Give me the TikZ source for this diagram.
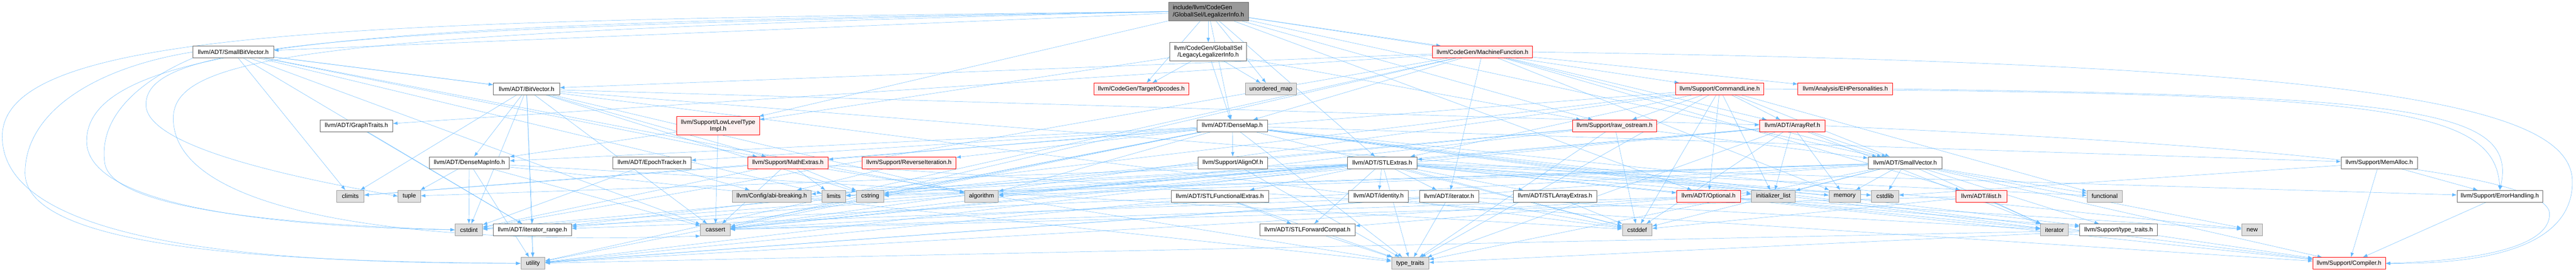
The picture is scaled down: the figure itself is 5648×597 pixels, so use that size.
\documentclass[tikz,border=0pt]{standalone}
\usepackage{fontspec}
\setmainfont{Liberation Sans}
\usetikzlibrary{arrows.meta,backgrounds}

\definecolor{inclblue}{HTML}{63B8FF}
\definecolor{rootfill}{HTML}{999999}
\definecolor{hdrline}{HTML}{666666}
\definecolor{sysfill}{HTML}{E0E0E0}
\definecolor{sysline}{HTML}{999999}
\definecolor{truncfill}{HTML}{FFF0F0}

\tikzset{every picture/.style={line width=0.75pt}}
\tikzset{
  hdr/.style={draw=hdrline, fill=white, font=\fontsize{10}{11.5}\selectfont,
    inner xsep=2pt, inner ysep=1pt, minimum height=19.5pt, align=center},
  roothdr/.style={hdr, fill=rootfill, align=left, minimum height=30.75pt},
  twohdr/.style={hdr, minimum height=30.5pt},
  syshdr/.style={hdr, fill=sysfill, draw=sysline},
  trunchdr/.style={hdr, fill=truncfill, draw=red},
  incl/.style={draw=inclblue, -{Latex[length=7.5pt,width=5.5pt]}},
}

\begin{document}
\begin{tikzpicture}[x=0.75pt,y=0.75pt,yscale=-1,xscale=1]
\useasboundingbox (0,0) rectangle (5648,597);

% row 0 and 1
\node [roothdr, minimum width=131.25pt] (legal) at (2649.5,25.5) {include/llvm/CodeGen\\/GlobalISel/LegalizerInfo.h};
\node [hdr, minimum width=132.75pt] (sbv) at (511.5,114.2) {llvm/ADT/SmallBitVector.h};
\node [twohdr, minimum width=126pt] (legacy) at (2649,114) {llvm/CodeGen/GlobalISel\\/LegacyLegalizerInfo.h};
\node [trunchdr, minimum width=164.25pt] (mf) at (3250.5,114.2) {llvm/CodeGen/MachineFunction.h};

% row 2
\node [hdr, minimum width=108.75pt] (bitvec) at (1154.5,195.4) {llvm/ADT/BitVector.h};
\node [trunchdr, minimum width=155.25pt] (tgtop) at (2502.5,195.4) {llvm/CodeGen/TargetOpcodes.h};
\node [syshdr, minimum width=83.25pt] (umap) at (2786.5,195.4) {unordered\_map};
\node [trunchdr, minimum width=144.75pt] (cmdline) at (3770.5,195.4) {llvm/Support/CommandLine.h};
\node [trunchdr, minimum width=156pt] (ehpers) at (4046,195.4) {llvm/Analysis/EHPersonalities.h};

% row 3
\node [hdr, minimum width=119.25pt] (graph) at (781.5,276.5) {llvm/ADT/GraphTraits.h};
\node [trunchdr, minimum width=135.75pt, minimum height=30.75pt] (lltype) at (1574.5,276.5) {llvm/Support/LowLevelType\\Impl.h};
\node [hdr, minimum width=115.5pt] (densemap) at (2702,276.5) {llvm/ADT/DenseMap.h};
\node [trunchdr, minimum width=138pt] (rawos) at (3540,276.5) {llvm/Support/raw\_ostream.h};
\node [trunchdr, minimum width=108pt] (arrayref) at (3930,276.5) {llvm/ADT/ArrayRef.h};

% row 4
\node [hdr, minimum width=132pt] (dmi) at (1029,357.6) {llvm/ADT/DenseMapInfo.h};
\node [hdr, minimum width=128.25pt] (epoch) at (1429.5,357.6) {llvm/ADT/EpochTracker.h};
\node [trunchdr, minimum width=132.75pt] (mathx) at (1727.5,357.6) {llvm/Support/MathExtras.h};
\node [trunchdr, minimum width=154.5pt] (reviter) at (1993,357.6) {llvm/Support/ReverseIteration.h};
\node [hdr, minimum width=114pt] (alignof) at (2703,357.6) {llvm/Support/AlignOf.h};
\node [hdr, minimum width=114.75pt] (stlx) at (3030.5,357.6) {llvm/ADT/STLExtras.h};
\node [hdr, minimum width=121.5pt] (smallvec) at (4177,357.6) {llvm/ADT/SmallVector.h};
\node [hdr, minimum width=125.25pt] (memalloc) at (5216.5,357.6) {llvm/Support/MemAlloc.h};

% row 5
\node [syshdr, minimum width=45pt] (climits) at (768,431) {climits};
\node [syshdr, minimum width=36.75pt] (tuple) at (897.5,431) {tuple};
\node [syshdr, minimum width=129pt] (abi) at (1692,431) {llvm/Config/abi-breaking.h};
\node [syshdr, minimum width=39pt] (limits) at (1828,431) {limits};
\node [syshdr, minimum width=45pt] (cstring) at (1908,431) {cstring};
\node [syshdr, minimum width=55.5pt] (algorithm) at (2152,431) {algorithm};
\node [hdr, minimum width=159.75pt] (stlfunc) at (2674.5,431) {llvm/ADT/STLFunctionalExtras.h};
\node [hdr, minimum width=98.25pt] (identity) at (3022.5,431) {llvm/ADT/identity.h};
\node [hdr, minimum width=97.5pt] (iterh) at (3177,431) {llvm/ADT/iterator.h};
\node [hdr, minimum width=137.25pt] (stlarr) at (3409.5,431) {llvm/ADT/STLArrayExtras.h};
\node [trunchdr, minimum width=105pt] (optional) at (3746,431) {llvm/ADT/Optional.h};
\node [syshdr, minimum width=72pt] (initlist) at (3888,431) {initializer\_list};
\node [syshdr, minimum width=51.75pt] (memory) at (4044.5,431) {memory};
\node [syshdr, minimum width=45pt] (cstdlib) at (4133,431) {cstdlib};
\node [trunchdr, minimum width=84pt] (ilist) at (4344,431) {llvm/ADT/ilist.h};
\node [syshdr, minimum width=57.75pt] (functional) at (4614.5,431) {functional};
\node [hdr, minimum width=141pt] (errh) at (5481,431) {llvm/Support/ErrorHandling.h};

% row 6
\node [syshdr, minimum width=45pt] (cstdint) at (1028,505) {cstdint};
\node [hdr, minimum width=128.25pt] (iterrange) at (1167.5,505) {llvm/ADT/iterator\_range.h};
\node [syshdr, minimum width=48.75pt] (cassert) at (1568.5,505) {cassert};
\node [hdr, minimum width=156.75pt] (stlfwd) at (2866.5,505) {llvm/ADT/STLForwardCompat.h};
\node [syshdr, minimum width=48.75pt] (cstddef) at (3589.5,505) {cstddef};
\node [syshdr, minimum width=45.75pt] (iterator) at (4504.5,505) {iterator};
\node [hdr, minimum width=127.5pt] (suptt) at (4645,505) {llvm/Support/type\_traits.h};
\node [syshdr, minimum width=34.5pt] (new) at (4938,505) {new};

% row 7
\node [syshdr, minimum width=39.75pt] (utility) at (1168.5,578.6) {utility};
\node [syshdr, minimum width=61.5pt] (typetraits) at (3092,578.6) {type\_traits};
\node [trunchdr, minimum width=119.25pt] (compiler) at (5150.5,578.6) {llvm/Support/Compiler.h};

\begin{scope}[on background layer]
% LegalizerInfo.h
\draw [incl] (legal) -- (sbv);
\draw [incl] (legal) -- (legacy);
\draw [incl] (legal) -- (mf);
\draw [incl] (legal) -- (tgtop);
\draw [incl] (legal) -- (cmdline);
\draw [incl] (legal) -- (lltype);
\draw [incl] (legal) -- (densemap);
\draw [incl] (legal) -- (stlx);
\draw [incl] (legal) -- (smallvec);
\draw [incl] (legal) -- (rawos);
\draw [incl] (legal) -- (optional);
\draw [incl] (legal) -- (umap);
\draw [incl] (legal.west) .. controls (700,60) and (320,100) .. (320,230) .. controls (320,330) and (700,400) .. (tuple.west);
\draw [incl] (legal.west) .. controls (900,50) and (190,80) .. (190,310) .. controls (190,470) and (700,500) .. (cstdint.west);
\draw [incl] (legal.west) .. controls (800,45) and (5,60) .. (5,300) .. controls (5,560) and (700,578) .. (utility.west);
\draw [incl] (legal.west) .. controls (700,70) and (380,120) .. (380,260) .. controls (380,470) and (900,540) .. (cassert.south west);
% SmallBitVector.h
\draw [incl] (sbv) -- (bitvec);
\draw [incl] (sbv) -- (iterrange);
\draw [incl] (sbv) -- (mathx);
\draw [incl] (sbv) -- (algorithm);
\draw [incl] (sbv) -- (cassert);
\draw [incl] (sbv) -- (climits);
\draw [incl] (sbv) -- (cstddef);
\draw [incl] (sbv) -- (limits);
\draw [incl] (sbv.south west) .. controls (300,180) and (215,260) .. (230,360) .. controls (250,470) and (700,495) .. (cstdint.west);
\draw [incl] (sbv.west) .. controls (200,150) and (55,250) .. (55,380) .. controls (55,560) and (700,575) .. (utility.west);
% BitVector.h
\draw [incl] (bitvec) -- (arrayref);
\draw [incl] (bitvec) -- (dmi);
\draw [incl] (bitvec) -- (iterrange);
\draw [incl] (bitvec) -- (mathx);
\draw [incl] (bitvec) -- (algorithm);
\draw [incl] (bitvec) -- (cassert);
\draw [incl] (bitvec) -- (climits);
\draw [incl] (bitvec) -- (cstdint);
\draw [incl] (bitvec) -- (cstdlib);
\draw [incl] (bitvec) -- (cstring);
\draw [incl] (bitvec) -- (utility);
% GraphTraits.h
\draw [incl] (graph) -- (iterrange);
% LegacyLegalizerInfo.h
\draw [incl] (legacy) -- (densemap);
\draw [incl] (legacy) -- (tgtop);
\draw [incl] (legacy) -- (lltype);
\draw [incl] (legacy) -- (umap);
\draw [incl] (legacy) -- (rawos);
% MachineFunction.h
\draw [incl] (mf) -- (bitvec);
\draw [incl] (mf) -- (arrayref);
\draw [incl] (mf) -- (densemap);
\draw [incl] (mf) -- (graph);
\draw [incl] (mf) -- (smallvec);
\draw [incl] (mf) -- (ilist);
\draw [incl] (mf) -- (iterh);
\draw [incl] (mf) -- (ehpers);
\draw [incl] (mf.east) .. controls (5200,140) and (5640,230) .. (5640,400) .. controls (5640,560) and (5400,580) .. (compiler.east);
\draw [incl] (mf) -- (cassert);
\draw [incl] (mf) -- (cstdint);
\draw [incl] (mf) -- (memory);
\draw [incl] (mf) -- (utility);
% CommandLine.h
\draw [incl] (cmdline) -- (arrayref);
\draw [incl] (cmdline) -- (optional);
\draw [incl] (cmdline) -- (stlx);
\draw [incl] (cmdline) -- (smallvec);
\draw [incl] (cmdline) -- (iterrange);
\draw [incl] (cmdline.east) .. controls (5200,205) and (5470,230) .. (errh.north);
\draw [incl] (cmdline) -- (rawos);
\draw [incl] (cmdline) -- (cassert);
\draw [incl] (cmdline) -- (climits);
\draw [incl] (cmdline) -- (cstddef);
\draw [incl] (cmdline) -- (functional);
\draw [incl] (cmdline) -- (initlist);
\draw [incl] (cmdline) -- (typetraits);
% EHPersonalities.h
\draw [incl] (ehpers.east) .. controls (5300,210) and (5520,240) .. (errh.north);
% LowLevelTypeImpl.h
\draw [incl] (lltype) -- (dmi);
\draw [incl] (lltype) -- (cassert);
% DenseMap.h
\draw [incl] (densemap) -- (dmi);
\draw [incl] (densemap) -- (epoch);
\draw [incl] (densemap) -- (alignof);
\draw [incl] (densemap) -- (compiler);
\draw [incl] (densemap) -- (mathx);
\draw [incl] (densemap) -- (memalloc);
\draw [incl] (densemap) -- (reviter);
\draw [incl] (densemap) -- (suptt);
\draw [incl] (densemap) -- (algorithm);
\draw [incl] (densemap) -- (cassert);
\draw [incl] (densemap) -- (cstddef);
\draw [incl] (densemap) -- (cstring);
\draw [incl] (densemap) -- (initlist);
\draw [incl] (densemap) -- (iterator);
\draw [incl] (densemap) -- (new);
\draw [incl] (densemap) -- (typetraits);
\draw [incl] (densemap) -- (utility);
% raw_ostream.h
\draw [incl] (rawos) -- (smallvec);
\draw [incl] (rawos) -- (cassert);
\draw [incl] (rawos) -- (cstddef);
\draw [incl] (rawos) -- (cstdint);
\draw [incl] (rawos) -- (cstring);
\draw [incl] (rawos) -- (typetraits);
% ArrayRef.h
\draw [incl] (arrayref) -- (smallvec);
\draw [incl] (arrayref) -- (stlx);
\draw [incl] (arrayref.east) .. controls (5000,320) and (5590,380) .. (5590,470) .. controls (5590,560) and (5350,575) .. (compiler.east);
\draw [incl] (arrayref) -- (algorithm);
\draw [incl] (arrayref) -- (cassert);
\draw [incl] (arrayref) -- (cstddef);
\draw [incl] (arrayref) -- (initlist);
\draw [incl] (arrayref) -- (iterator);
\draw [incl] (arrayref) -- (memory);
\draw [incl] (arrayref) -- (typetraits);
% DenseMapInfo.h
\draw [incl] (dmi) -- (cassert);
\draw [incl] (dmi) -- (cstddef);
\draw [incl] (dmi) -- (cstdint);
\draw [incl] (dmi) -- (tuple);
\draw [incl] (dmi) -- (typetraits);
\draw [incl] (dmi) -- (utility);
% EpochTracker.h
\draw [incl] (epoch) -- (abi);
\draw [incl] (epoch) -- (cstdint);
% MathExtras.h
\draw [incl] (mathx) -- (compiler);
\draw [incl] (mathx) -- (cassert);
\draw [incl] (mathx) -- (climits);
\draw [incl] (mathx) -- (cstdint);
\draw [incl] (mathx) -- (cstring);
\draw [incl] (mathx) -- (limits);
\draw [incl] (mathx) -- (typetraits);
% ReverseIteration.h, AlignOf.h
\draw [incl] (reviter) -- (abi);
\draw [incl] (alignof) -- (typetraits);
% STLExtras.h
\draw [incl] (stlx) -- (optional);
\draw [incl] (stlx) -- (stlarr);
\draw [incl] (stlx) -- (stlfwd);
\draw [incl] (stlx) -- (stlfunc);
\draw [incl] (stlx) -- (identity);
\draw [incl] (stlx) -- (iterh);
\draw [incl] (stlx) -- (iterrange);
\draw [incl] (stlx) -- (abi);
\draw [incl] (stlx) -- (errh);
\draw [incl] (stlx) -- (algorithm);
\draw [incl] (stlx) -- (cassert);
\draw [incl] (stlx) -- (cstddef);
\draw [incl] (stlx) -- (cstdint);
\draw [incl] (stlx) -- (cstdlib);
\draw [incl] (stlx) -- (functional);
\draw [incl] (stlx) -- (initlist);
\draw [incl] (stlx) -- (iterator);
\draw [incl] (stlx) -- (limits);
\draw [incl] (stlx) -- (memory);
\draw [incl] (stlx) -- (tuple);
\draw [incl] (stlx) -- (typetraits);
\draw [incl] (stlx) -- (utility);
% STLFunctionalExtras.h
\draw [incl] (stlfunc) -- (stlfwd);
\draw [incl] (stlfunc) -- (cstdint);
\draw [incl] (stlfunc) -- (typetraits);
\draw [incl] (stlfunc) -- (utility);
% iterator.h
\draw [incl] (iterh) -- (iterrange);
\draw [incl] (iterh) -- (cstddef);
\draw [incl] (iterh) -- (iterator);
\draw [incl] (iterh) -- (typetraits);
\draw [incl] (iterh) -- (utility);
% STLArrayExtras.h, STLForwardCompat.h
\draw [incl] (stlarr) -- (cstddef);
\draw [incl] (stlfwd) -- (typetraits);
% Optional.h
\draw [incl] (optional) -- (stlfwd);
\draw [incl] (optional) -- (compiler);
\draw [incl] (optional) -- (suptt);
\draw [incl] (optional) -- (cassert);
\draw [incl] (optional) -- (new);
\draw [incl] (optional) -- (utility);
% SmallVector.h
\draw [incl] (smallvec) -- (compiler);
\draw [incl] (smallvec) -- (suptt);
\draw [incl] (smallvec) -- (algorithm);
\draw [incl] (smallvec) -- (cassert);
\draw [incl] (smallvec) -- (cstddef);
\draw [incl] (smallvec) -- (cstdlib);
\draw [incl] (smallvec) -- (cstring);
\draw [incl] (smallvec) -- (functional);
\draw [incl] (smallvec) -- (initlist);
\draw [incl] (smallvec) -- (iterator);
\draw [incl] (smallvec) -- (limits);
\draw [incl] (smallvec) -- (memory);
\draw [incl] (smallvec) -- (new);
\draw [incl] (smallvec) -- (typetraits);
\draw [incl] (smallvec) -- (utility);
% MemAlloc.h, ErrorHandling.h, type_traits.h, ilist.h, iterator_range.h
\draw [incl] (memalloc) -- (compiler);
\draw [incl] (memalloc) -- (errh);
\draw [incl] (memalloc) -- (cstdlib);
\draw [incl] (errh) -- (compiler);
\draw [incl] (suptt) -- (compiler);
\draw [incl] (suptt) -- (typetraits);
\draw [incl] (suptt) -- (utility);
\draw [incl] (ilist) -- (cassert);
\draw [incl] (ilist) -- (cstddef);
\draw [incl] (ilist) -- (iterator);
\draw [incl] (iterrange) -- (utility);
\end{scope}
\end{tikzpicture}
\end{document}
